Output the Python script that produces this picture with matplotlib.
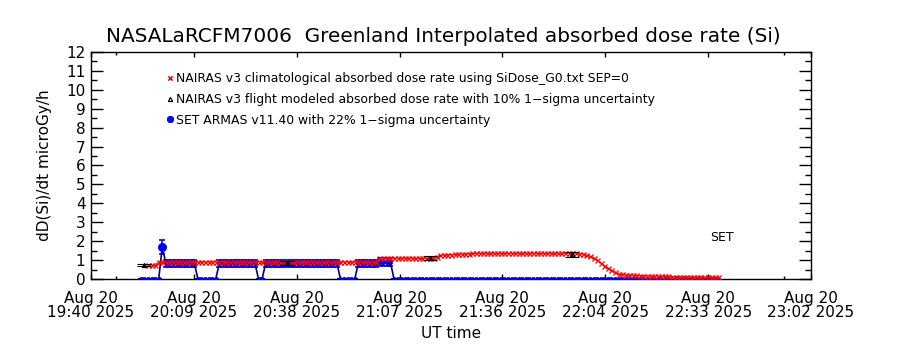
import matplotlib.pyplot as plt
import numpy as np
from matplotlib.lines import Line2D

# time axis in minutes after 19:40 UT, 20 Aug 2025
tick_labels = ['Aug 20\n19:40 2025', 'Aug 20\n20:09 2025', 'Aug 20\n20:38 2025',
               'Aug 20\n21:07 2025', 'Aug 20\n21:36 2025', 'Aug 20\n22:04 2025',
               'Aug 20\n22:33 2025', 'Aug 20\n23:02 2025']
t_span = 202.0

# NAIRAS climatological dose rate, one value per minute
clim_t = np.arange(16, 177)
clim_v = ([0.74, 0.74, 0.74] + [0.90] * 62 + [1.10] * 15 +
          [1.10, 1.18, 1.26, 1.27, 1.28, 1.29, 1.30, 1.31, 1.32, 1.33, 1.34, 1.35, 1.36] +
          [1.36] * 27 +
          [1.35, 1.33, 1.31, 1.27, 1.19, 1.10, 1.00, 0.86, 0.71, 0.56, 0.45, 0.35, 0.27,
           0.24, 0.22, 0.21, 0.20, 0.19, 0.18, 0.17, 0.16] +
          [0.15, 0.15, 0.15, 0.14, 0.14, 0.14, 0.13, 0.13, 0.13, 0.12, 0.12, 0.12, 0.11,
           0.11, 0.11, 0.10, 0.10, 0.10, 0.09, 0.09])

# NAIRAS flight modeled points (10% 1-sigma)
flt_t = [15, 55, 95, 135]
flt_v = [0.74, 0.85, 1.10, 1.32]

# SET ARMAS measurements (22% 1-sigma), zero where no data
set_t = np.arange(14, 177)
set_v = ([0.0] * 6 + [1.70] + [0.82] * 9 + [0.0] * 6 + [0.82] * 11 + [0.0] * 2 +
         [0.82] * 21 + [0.0] * 5 + [0.82] * 6 + [0.90] * 4 + [0.0] * 92)

fig = plt.figure(figsize=(9, 3.5), dpi=100)
ax = fig.add_axes([0.1011, 0.2029, 0.8, 0.6485])

set_v = np.array(set_v)
ax.errorbar(set_t, set_v, yerr=0.22 * set_v, fmt='none', ecolor='#0000ff',
            elinewidth=1.2, capsize=2.5, capthick=1.2, zorder=2)
ax.plot(set_t, set_v, color='#000080', lw=1.2, marker='o', ms=3,
        mfc='#0000ff', mec='#000080', mew=0.5, zorder=3)
ax.plot(20, 1.70, 'o', color='#0000ff', ms=5.5, zorder=3)

ax.plot(clim_t, clim_v, color='#ff0000', lw=0.8, marker='x', ms=3.6, mew=0.9, zorder=4)

flt_v = np.array(flt_v)
ax.errorbar(flt_t, flt_v, yerr=0.10 * flt_v, fmt='^', color='black', ms=3,
            mfc='none', mew=0.8, elinewidth=1, capsize=5, capthick=1, zorder=5)

ax.text(173.7, 2.2, 'SET', fontsize=9, ha='left', va='center')

handles = [Line2D([], [], ls='none', marker='x', color='#ff0000', ms=3.2, mew=0.9),
           Line2D([], [], ls='none', marker='^', color='black', mfc='none', ms=3, mew=0.7),
           Line2D([], [], ls='none', marker='o', color='#0000ff', ms=4)]
labels = ['NAIRAS v3 climatological absorbed dose rate using SiDose_G0.txt SEP=0',
          'NAIRAS v3 flight modeled absorbed dose rate with 10% 1\u2212sigma uncertainty',
          'SET ARMAS v11.40 with 22% 1\u2212sigma uncertainty']
ax.legend(handles, labels, loc='upper left', bbox_to_anchor=(0.098, 0.932),
          frameon=False, numpoints=2, handlelength=0.6, handletextpad=0.15,
          labelspacing=0.62, fontsize=8.9, borderaxespad=0)

ax.set_xlim(0, t_span)
ax.set_ylim(0, 12)
ax.set_xticks(np.linspace(0, t_span, len(tick_labels)))
ax.set_xticklabels(tick_labels, fontsize=11, linespacing=0.9)
ax.set_xticks([7.0, 194.4], minor=True)
ax.set_yticks(range(13))
ax.set_yticks(np.arange(0.5, 12, 1.0), minor=True)
ax.tick_params(axis='y', which='major', direction='in', length=8.5, width=1,
               left=True, right=True, labelsize=11, pad=4)
ax.tick_params(axis='y', which='minor', direction='in', length=4.5, width=1,
               left=True, right=True)
ax.tick_params(axis='x', which='major', direction='in', length=3.6, width=1,
               top=True, bottom=True, pad=9)
ax.tick_params(axis='x', which='minor', direction='in', length=2.2, width=1,
               top=True, bottom=True)
for s in ax.spines.values():
    s.set_linewidth(1)

ax.set_xlabel('UT time', fontsize=11, labelpad=4)
ax.set_ylabel('dD(Si)/dt microGy/h', fontsize=11, labelpad=10)
ax.set_title('NASALaRCFM7006  Greenland Interpolated absorbed dose rate (Si)',
             fontsize=14.4, pad=7, x=0.49)

fig.savefig('out.png', dpi=100)
